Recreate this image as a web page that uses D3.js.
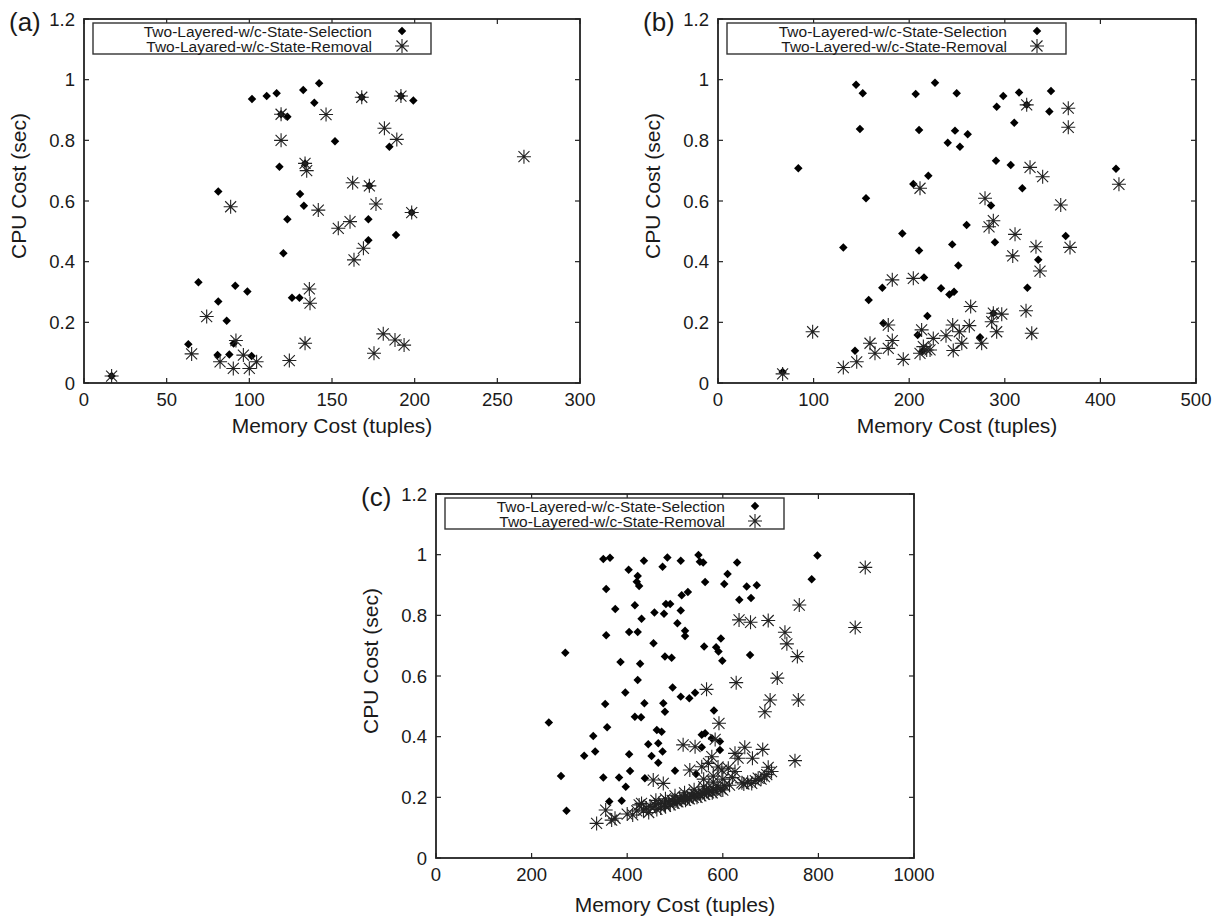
<!DOCTYPE html>
<html>
<head>
<meta charset="utf-8">
<script src="https://cdn.jsdelivr.net/npm/d3@7"></script>
<style>
body { margin: 0; background: #fff; }
text { font-family: "Liberation Sans", Arial, Helvetica, sans-serif; fill: #1a1a1a; }
.frame { fill: none; stroke: #222; stroke-width: 1.8; }
.tick-line { stroke: #222; stroke-width: 1.2; }
.legend-box { fill: #fff; stroke: #333; stroke-width: 1.4; }
.diamond { fill: #000; }
.star { stroke: #222; stroke-width: 1.1; fill: none; }
</style>
</head>
<body>
<script>
const width = 1228, height = 924;

const yTicks = [0, 0.2, 0.4, 0.6, 0.8, 1, 1.2];
const yTickLabels = ["0", "0.2", "0.4", "0.6", "0.8", "1", "1.2"];
const xTicksA = [0, 50, 100, 150, 200, 250, 300];
const xTicksB = [0, 100, 200, 300, 400, 500];
const xTicksC = [0, 200, 400, 600, 800, 1000];

const selectionNameA = "Two-Layered-w/c-State-Selection";
const removalNameA = "Two-Layared-w/c-State-Removal";
const selectionName = "Two-Layered-w/c-State-Selection";
const removalName = "Two-Layered-w/c-State-Removal";

// (a) memory cost, cpu cost
const selA = [[16.7,0.023],[63.1,0.128],[69.2,0.332],[80.8,0.092],[81.2,0.269],[81.2,0.631],[86.3,0.205],[87.9,0.094],[90.5,0.13],[91.5,0.321],[98.8,0.302],[101.4,0.089],[101.6,0.936],[110.5,0.946],[116.5,0.955],[118.2,0.713],[119.2,0.886],[120.6,0.428],[123,0.878],[123,0.540],[125.8,0.281],[130.3,0.281],[130.7,0.623],[132.6,0.966],[133,0.584],[133.7,0.724],[139.3,0.924],[142.2,0.988],[151.8,0.797],[168,0.942],[172,0.540],[172,0.471],[172.6,0.650],[184.7,0.779],[188.7,0.488],[191.7,0.946],[198.2,0.562],[199.2,0.931]];
const remA = [[16.7,0.023],[65.1,0.096],[74.2,0.219],[82.3,0.070],[88.7,0.581],[90.3,0.048],[91.9,0.140],[96.4,0.092],[100,0.048],[104.4,0.070],[119.2,0.886],[119.2,0.80],[124.2,0.074],[133.7,0.131],[133.7,0.724],[134.7,0.70],[136.3,0.310],[136.7,0.263],[141.7,0.570],[146.4,0.885],[153.8,0.510],[160.9,0.532],[162.5,0.660],[163.3,0.406],[168,0.942],[169,0.444],[172.6,0.650],[175.4,0.098],[176.6,0.590],[181,0.162],[181.7,0.840],[188.1,0.142],[189.2,0.803],[191.7,0.946],[193.6,0.125],[198.2,0.562],[266.1,0.746]];

// (b)
const selB = [[67.6,0.036],[84,0.708],[131.1,0.447],[143.3,0.106],[144.4,0.983],[148.5,0.837],[151.4,0.955],[154.8,0.609],[157.6,0.274],[171.9,0.314],[173,0.197],[192.8,0.493],[204.3,0.656],[206.8,0.953],[208.9,0.158],[210.3,0.834],[210.3,0.437],[214,0.105],[215.5,0.348],[219,0.221],[220,0.683],[227,0.990],[233.3,0.312],[240.3,0.792],[242,0.292],[245,0.457],[246.9,0.301],[247.9,0.832],[249.7,0.955],[251.4,0.387],[253.1,0.779],[260.1,0.521],[261.2,0.820],[274.1,0.151],[285.6,0.585],[288,0.230],[289.7,0.464],[290.8,0.733],[291.5,0.911],[298.4,0.946],[306.2,0.719],[309.9,0.858],[314.9,0.958],[318.3,0.642],[322.9,0.917],[323.6,0.314],[335,0.406],[346.6,0.895],[348.3,0.963],[363.7,0.485],[416.3,0.706]];
const remB = [[67.6,0.03],[99,0.169],[131.1,0.051],[145.1,0.070],[159,0.131],[164.2,0.098],[178.1,0.114],[178.1,0.191],[182.3,0.140],[182.3,0.340],[193.8,0.078],[204.3,0.345],[211.3,0.642],[211.3,0.098],[213,0.175],[214.8,0.120],[218.3,0.109],[221.8,0.109],[225.2,0.147],[238.5,0.156],[245.5,0.191],[246.1,0.107],[252.4,0.169],[255,0.131],[262.9,0.189],[264.3,0.252],[275.8,0.131],[279.3,0.609],[283.5,0.515],[286.3,0.202],[288,0.535],[288,0.230],[291.5,0.169],[296.8,0.227],[308.3,0.419],[310.7,0.490],[322.2,0.238],[322.9,0.917],[326.4,0.711],[328.2,0.164],[332.6,0.449],[336.8,0.369],[339.6,0.680],[358.5,0.587],[366.4,0.906],[366.4,0.843],[368.2,0.447],[419.4,0.655]];

// (c)
const selC = [[236,0.447],[261.5,0.270],[270.5,0.677],[273,0.156],[310,0.337],[329,0.402],[333,0.351],[350,0.986],[350,0.265],[354,0.508],[356,0.887],[356,0.734],[358,0.431],[362.5,0.186],[364,0.990],[375,0.821],[383,0.265],[386,0.646],[388.5,0.189],[396,0.546],[397,0.235],[403,0.950],[404,0.745],[404,0.342],[406,0.287],[416,0.833],[416,0.466],[420,0.911],[422,0.930],[422,0.745],[422,0.587],[425,0.897],[427,0.640],[429,0.464],[430,0.789],[435,0.980],[436,0.510],[437,0.263],[444,0.375],[451,0.336],[455,0.708],[457,0.809],[462,0.422],[465,0.378],[465,0.314],[472,0.416],[474,0.960],[474,0.351],[475.5,0.510],[477,0.805],[479,0.664],[479,0.482],[481,0.837],[484,0.991],[490,0.837],[493,0.660],[495,0.562],[500,0.288],[505,0.774],[512,0.980],[512,0.816],[512,0.532],[514,0.866],[521,0.749],[521,0.732],[527,0.877],[530,0.527],[542,0.545],[544,0.277],[549,0.999],[552,0.977],[556,0.406],[556,0.365],[559,0.974],[561,0.697],[563,0.910],[563,0.411],[577,0.395],[581.5,0.486],[586,0.695],[591,0.681],[594,0.384],[594,0.356],[596,0.724],[599,0.650],[603,0.903],[610,0.936],[630,0.974],[634.5,0.851],[650,0.895],[657,0.669],[659,0.857],[671,0.899],[786,0.919],[798,0.997]];
const remC = [[336,0.114],[355,0.158],[367.5,0.125],[374.5,0.131],[400,0.145],[411.5,0.142],[420,0.155],[425,0.175],[430,0.180],[434,0.158],[440,0.165],[445,0.150],[448,0.170],[454.5,0.257],[458,0.175],[460,0.190],[462,0.160],[466,0.180],[470,0.165],[475.5,0.246],[478,0.178],[480,0.170],[480,0.195],[486,0.185],[490,0.175],[494,0.190],[498,0.180],[500,0.205],[502,0.188],[506,0.185],[510,0.195],[514,0.190],[517,0.373],[518,0.200],[520,0.215],[522,0.190],[526,0.198],[530,0.195],[531,0.290],[534,0.205],[538,0.200],[540,0.225],[542,0.367],[542,0.210],[546,0.200],[550,0.212],[554,0.205],[556,0.301],[558,0.215],[560,0.235],[560,0.260],[562,0.210],[566,0.556],[566,0.220],[570,0.312],[570,0.215],[573,0.224],[577,0.334],[578,0.215],[580,0.226],[580,0.250],[580,0.270],[584,0.391],[586,0.220],[588,0.232],[590,0.300],[592,0.444],[596,0.228],[598,0.290],[600,0.224],[600,0.260],[604,0.238],[611.5,0.296],[614,0.240],[620,0.265],[625.5,0.345],[625.5,0.285],[628,0.578],[632,0.329],[634,0.785],[640,0.248],[644,0.244],[646,0.365],[652,0.250],[658,0.777],[660.5,0.246],[662,0.329],[668,0.255],[674,0.263],[680,0.260],[683.5,0.358],[687,0.268],[688,0.482],[692,0.275],[695,0.783],[695,0.299],[699,0.521],[702,0.285],[714,0.593],[730,0.744],[734,0.706],[751,0.321],[756,0.664],[758,0.521],[760,0.834],[877,0.760],[898,0.958]];

const svg = d3.select("body").append("svg")
.attr("width", width)
.attr("height", height);

svg.append("rect").attr("width", width).attr("height", height).attr("fill", "#fff");

const diamond = d3.symbol().type(d3.symbolDiamond2).size(46);

function starPath(r, d) {
    return `M${-r},0H${r}M0,${-r}V${r}M${-d},${-d}L${d},${d}M${-d},${d}L${d},${-d}`;
}

function drawPanel(p) {
    const x = d3.scaleLinear().domain([p.xTicks[0], p.xTicks[p.xTicks.length - 1]]).range([p.left, p.right]);
    const y = d3.scaleLinear().domain([0, 1.2]).range([p.bottom, p.top]);
    const g = svg.append("g");

    // ticks, all four sides pointing inward
    g.selectAll(".xb").data(p.xTicks).enter().append("line")
    .attr("class", "tick-line")
    .attr("x1", d => x(d)).attr("x2", d => x(d))
    .attr("y1", p.bottom).attr("y2", p.bottom - 5);
    g.selectAll(".xt").data(p.xTicks).enter().append("line")
    .attr("class", "tick-line")
    .attr("x1", d => x(d)).attr("x2", d => x(d))
    .attr("y1", p.top).attr("y2", p.top + 5);
    g.selectAll(".yl").data(yTicks).enter().append("line")
    .attr("class", "tick-line")
    .attr("x1", p.left).attr("x2", p.left + 5)
    .attr("y1", d => y(d)).attr("y2", d => y(d));
    g.selectAll(".yr").data(yTicks).enter().append("line")
    .attr("class", "tick-line")
    .attr("x1", p.right).attr("x2", p.right - 5)
    .attr("y1", d => y(d)).attr("y2", d => y(d));

    g.selectAll(".xlab").data(p.xTicks).enter().append("text")
    .attr("x", d => x(d))
    .attr("y", p.bottom + 23)
    .attr("text-anchor", "middle")
    .attr("font-size", 18.5)
    .text(d => d);
    g.selectAll(".ylab").data(yTicks).enter().append("text")
    .attr("x", p.left - 9)
    .attr("y", d => y(d))
    .attr("dy", "0.36em")
    .attr("text-anchor", "end")
    .attr("font-size", 18.5)
    .text((d, i) => yTickLabels[i]);

    g.append("text")
    .attr("x", (p.left + p.right) / 2)
    .attr("y", p.bottom + p.titleGap)
    .attr("text-anchor", "middle")
    .attr("font-size", 21)
    .text("Memory Cost (tuples)");
    g.append("text")
    .attr("transform", `translate(${p.left - 58},${(p.top + p.bottom) / 2 - 15}) rotate(-90)`)
    .attr("text-anchor", "middle")
    .attr("font-size", 21)
    .text("CPU Cost (sec)");

    g.append("text")
    .attr("x", p.left - 75)
    .attr("y", p.top + 12)
    .attr("font-size", 26)
    .text(p.letter);

    // points
    g.selectAll(".diamond").data(p.sel).enter().append("path")
    .attr("class", "diamond")
    .attr("d", diamond)
    .attr("transform", d => `translate(${x(d[0])},${y(d[1])})`);
    g.selectAll(".star").data(p.rem).enter().append("path")
    .attr("class", "star")
    .attr("d", starPath(7, 5.5))
    .attr("transform", d => `translate(${x(d[0])},${y(d[1])})`);

    // legend
    const lx0 = p.left + 9, lx1 = p.left + p.legendW;
    const ly0 = p.top + 4, ly1 = p.top + 35;
    g.append("rect")
    .attr("class", "legend-box")
    .attr("x", lx0).attr("y", ly0)
    .attr("width", lx1 - lx0).attr("height", ly1 - ly0);
    const rows = [p.selName, p.remName];
    g.selectAll(".legtext").data(rows).enter().append("text")
    .attr("x", lx1 - 59)
    .attr("y", (d, i) => ly0 + 8 + i * 15)
    .attr("dy", "0.36em")
    .attr("text-anchor", "end")
    .attr("font-size", 15.5)
    .text(d => d);
    g.append("path")
    .attr("class", "diamond")
    .attr("d", diamond)
    .attr("transform", `translate(${lx1 - 29},${ly0 + 8})`);
    g.append("path")
    .attr("class", "star")
    .attr("d", starPath(7, 5.5))
    .attr("transform", `translate(${lx1 - 29},${ly0 + 23})`);

    g.append("rect")
    .attr("class", "frame")
    .attr("x", p.left).attr("y", p.top)
    .attr("width", p.right - p.left).attr("height", p.bottom - p.top);
}

drawPanel({letter: "(a)", left: 84, right: 580, top: 19, bottom: 383, titleGap: 50,
    xTicks: xTicksA, sel: selA, rem: remA, selName: selectionNameA, remName: removalNameA, legendW: 347});
drawPanel({letter: "(b)", left: 718, right: 1196, top: 19, bottom: 383, titleGap: 50,
    xTicks: xTicksB, sel: selB, rem: remB, selName: selectionName, remName: removalName, legendW: 348});
drawPanel({letter: "(c)", left: 436, right: 914, top: 494, bottom: 858, titleGap: 54,
    xTicks: xTicksC, sel: selC, rem: remC, selName: selectionName, remName: removalName, legendW: 348});
</script>
</body>
</html>
